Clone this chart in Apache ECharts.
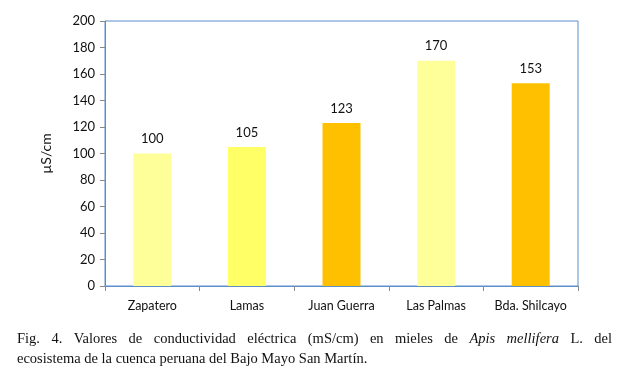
<!DOCTYPE html>
<html>
<head>
<meta charset="utf-8">
<script src="https://cdn.jsdelivr.net/npm/echarts@6/dist/echarts.min.js"></script>
<style>
  html, body { margin: 0; padding: 0; background: #fff; }
  #chart { width: 629px; height: 375px; }
</style>
</head>
<body>
<div id="chart"></div>
<script>
const categories = ["Zapatero", "Lamas", "Juan Guerra", "Las Palmas", "Bda. Shilcayo"];
const values = [100, 105, 123, 170, 153];
const barColors = ["#FFFF99", "#FFFF66", "#FFC000", "#FFFF99", "#FFC000"];
const yTicks = { min: 0, max: 200, interval: 20 };

// caption line 1 is justified, word by word; [text, italic]
const captionWords = [
    ["Fig.", false], ["4.", false], ["Valores", false], ["de", false], ["conductividad", false],
    ["eléctrica", false], ["(mS/cm)", false], ["en", false], ["mieles", false], ["de", false],
    ["Apis", true], ["mellifera", true], ["L.", false], ["del", false]
];
const captionLine2 = "ecosistema de la cuenca peruana del Bajo Mayo San Martín.";

const chart = echarts.init(document.getElementById("chart"));

const labelFont = "Lato, 'Open Sans', sans-serif";
const captionFamily = "'Liberation Serif', 'DejaVu Serif', serif";
const captionSize = 14.5;

// measure words so the first caption line fills the text block
const ctx = document.createElement("canvas").getContext("2d");
function wordWidth(w, italic) {
    ctx.font = (italic ? "italic " : "") + captionSize + "px " + captionFamily;
    return ctx.measureText(w).width;
}
const lineLeft = 17, lineRight = 612;
const widths = captionWords.map(([w, it]) => wordWidth(w, it));
const totalWords = widths.reduce((a, b) => a + b, 0);
const gap = (lineRight - lineLeft - totalWords) / (captionWords.length - 1);

const captionGraphics = [];
let cx = lineLeft;
captionWords.forEach(([w, it], i) => {
    captionGraphics.push({
        type: "text",
        x: cx,
        y: 332,
        style: {
            text: w,
            fontFamily: captionFamily,
            fontSize: captionSize,
            fontStyle: it ? "italic" : "normal",
            fill: "#111"
        }
    });
    cx += widths[i] + gap;
});
captionGraphics.push({
    type: "text",
    x: lineLeft,
    y: 352,
    style: {
        text: captionLine2,
        fontFamily: captionFamily,
        fontSize: captionSize,
        fill: "#111"
    }
});

chart.setOption({
    animation: false,
    grid: { left: 105, right: 51, top: 21, bottom: 89, show: true, borderColor: "#5B8FCC", borderWidth: 1 },
    xAxis: {
        type: "category",
        data: categories,
        axisLine: { lineStyle: { color: "#5B8FCC" } },
        axisTick: { show: true, length: 5, lineStyle: { color: "#888" } },
        axisLabel: { color: "#111", fontFamily: labelFont, fontSize: 12.5, margin: 13 }
    },
    yAxis: {
        type: "value",
        min: yTicks.min,
        max: yTicks.max,
        interval: yTicks.interval,
        name: "µS/cm",
        nameLocation: "middle",
        nameGap: 52,
        nameRotate: 90,
        nameTextStyle: { color: "#111", fontFamily: labelFont, fontSize: 14 },
        axisLine: { show: true, lineStyle: { color: "#5B8FCC" } },
        axisTick: { show: true, length: 5, lineStyle: { color: "#888" } },
        splitLine: { show: false },
        axisLabel: { color: "#111", fontFamily: labelFont, fontSize: 13, margin: 10 }
    },
    series: [{
        type: "bar",
        data: values.map((v, i) => ({ value: v, itemStyle: { color: barColors[i] } })),
        barWidth: 38,
        label: {
            show: true,
            position: "top",
            distance: 8,
            color: "#111",
            fontFamily: labelFont,
            fontSize: 13
        }
    }],
    graphic: captionGraphics
});
</script>
</body>
</html>
